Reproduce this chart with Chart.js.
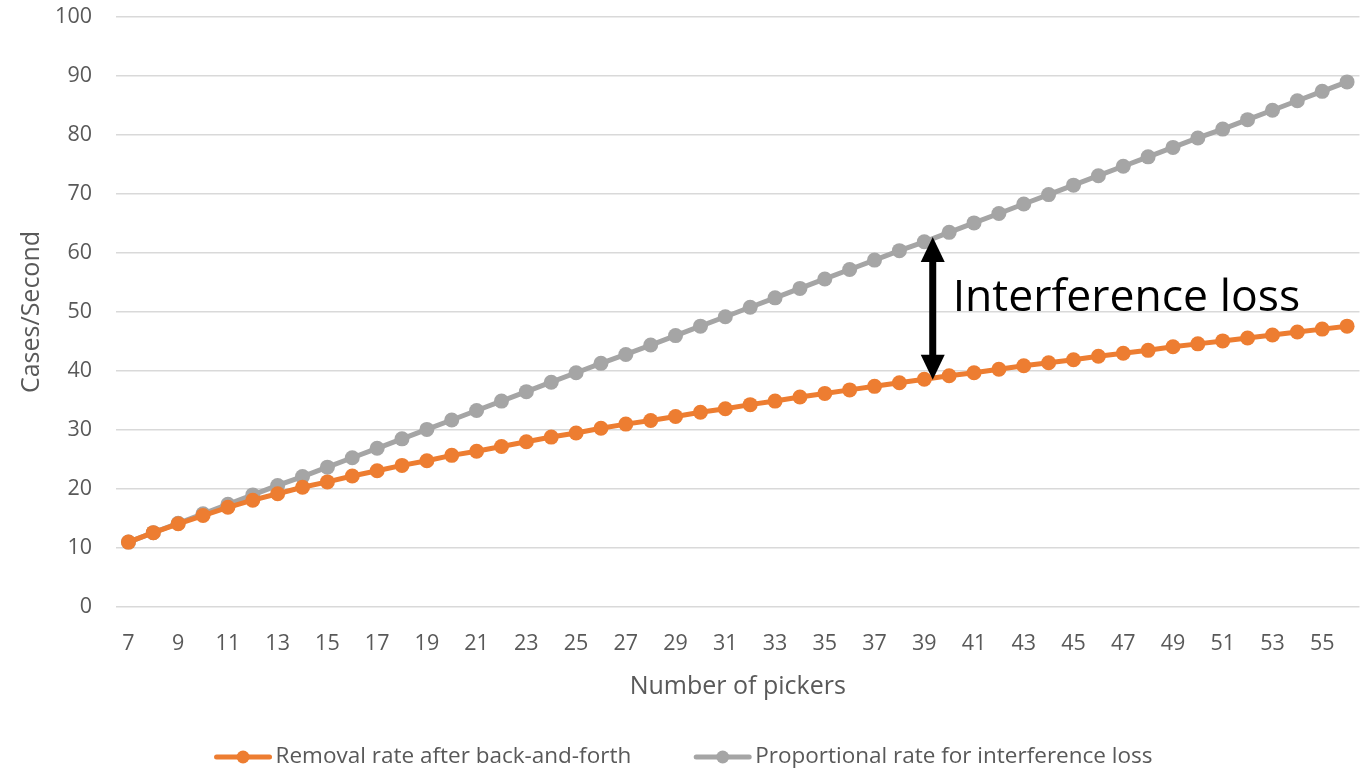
<!DOCTYPE html>
<html>
<head>
<meta charset="utf-8">
<script src="https://cdn.jsdelivr.net/npm/chart.js@4/dist/chart.umd.min.js"></script>
<style>
  html, body { margin: 0; padding: 0; background: #ffffff; }
  #wrap { width: 1367px; height: 773px; }
</style>
</head>
<body>
<div id="wrap"><canvas id="chart" width="1367" height="773"></canvas></div>
<script>
// Number of pickers on the x axis
const pickers = [7, 8, 9, 10, 11, 12, 13, 14, 15, 16, 17, 18, 19, 20, 21, 22, 23, 24, 25, 26,
  27, 28, 29, 30, 31, 32, 33, 34, 35, 36, 37, 38, 39, 40, 41, 42, 43, 44, 45, 46,
  47, 48, 49, 50, 51, 52, 53, 54, 55, 56];

// Removal rate once back-and-forth travel is accounted for (cases/second)
const removalRate = [11.0, 12.6, 14.1, 15.5, 16.9, 18.1, 19.2, 20.3, 21.2, 22.2,
  23.1, 24.0, 24.8, 25.7, 26.4, 27.2, 28.0, 28.8, 29.5, 30.3,
  31.0, 31.6, 32.3, 33.0, 33.6, 34.3, 34.9, 35.6, 36.2, 36.8,
  37.4, 38.0, 38.6, 39.2, 39.7, 40.3, 40.9, 41.4, 41.9, 42.5,
  43.0, 43.5, 44.1, 44.6, 45.1, 45.6, 46.1, 46.6, 47.1, 47.6];

// Rate that would be reached with no interference (cases/second)
const proportionalRate = [11.0, 12.6, 14.2, 15.8, 17.4, 19.0, 20.6, 22.1, 23.7, 25.3,
  26.9, 28.5, 30.1, 31.7, 33.3, 34.9, 36.5, 38.1, 39.7, 41.3,
  42.8, 44.4, 46.0, 47.6, 49.2, 50.8, 52.4, 54.0, 55.6, 57.2,
  58.8, 60.4, 61.9, 63.5, 65.1, 66.7, 68.3, 69.9, 71.5, 73.1,
  74.7, 76.3, 77.9, 79.5, 81.0, 82.6, 84.2, 85.8, 87.4, 89.0];

const seriesNames = ['Removal rate after back-and-forth', 'Proportional rate for interference loss'];
const yTicks = [0, 10, 20, 30, 40, 50, 60, 70, 80, 90, 100];

// Gap annotation: double arrow between the two curves and its caption
const gapArrow = { picker: 39.34, top: 62.7, bottom: 38.5 };
const gapLabel = { text: 'Interference loss', picker: 40.14, value: 52.3 };

const FONT = "'Open Sans', 'Noto Sans', sans-serif";
const TEXT_GREY = '#595959';
const ORANGE = '#ED7D31';
const GREY = '#A5A5A5';

// Draws the double-headed arrow and its caption through the chart scales
const gapAnnotation = {
  id: 'gapAnnotation',
  afterDatasetsDraw(chart) {
    const { ctx, scales: { x, y } } = chart;
    const idx = gapArrow.picker - pickers[0];
    const ax = x.getPixelForValue(idx);
    const yTop = y.getPixelForValue(gapArrow.top);
    const yBot = y.getPixelForValue(gapArrow.bottom);
    const headLen = 25, headHalf = 12, shaft = 7;
    ctx.save();
    ctx.fillStyle = '#000000';
    ctx.fillRect(ax - shaft / 2, yTop + headLen - 1, shaft, (yBot - yTop) - 2 * headLen + 2);
    ctx.beginPath();
    ctx.moveTo(ax, yTop);
    ctx.lineTo(ax + headHalf, yTop + headLen);
    ctx.lineTo(ax - headHalf, yTop + headLen);
    ctx.closePath();
    ctx.fill();
    ctx.beginPath();
    ctx.moveTo(ax, yBot);
    ctx.lineTo(ax + headHalf, yBot - headLen);
    ctx.lineTo(ax - headHalf, yBot - headLen);
    ctx.closePath();
    ctx.fill();

    const lx = x.getPixelForValue(gapLabel.picker - pickers[0]);
    const ly = y.getPixelForValue(gapLabel.value);
    ctx.font = `44.5px ${FONT}`;
    ctx.textAlign = 'left';
    ctx.textBaseline = 'middle';
    ctx.fillText(gapLabel.text, lx, ly);
    ctx.restore();
  }
};

// Bottom legend: line-with-marker swatch followed by the series name
const lineLegend = {
  id: 'lineLegend',
  afterDraw(chart) {
    const { ctx } = chart;
    const swatch = 57, textGap = 4, itemGap = 63, cy = 757;
    ctx.save();
    ctx.font = `22.5px ${FONT}`;
    const items = chart.data.datasets.map(ds => ({
      label: ds.label, color: ds.borderColor,
      w: swatch + textGap + ctx.measureText(ds.label).width
    }));
    const total = items.reduce((s, it) => s + it.w, 0) + itemGap * (items.length - 1);
    let cx = chart.width / 2 - total / 2;
    items.forEach(it => {
      ctx.strokeStyle = it.color;
      ctx.lineWidth = 5;
      ctx.lineCap = 'round';
      ctx.beginPath();
      ctx.moveTo(cx + 2, cy);
      ctx.lineTo(cx + swatch - 2, cy);
      ctx.stroke();
      ctx.fillStyle = it.color;
      ctx.beginPath();
      ctx.arc(cx + swatch / 2, cy, 6.5, 0, Math.PI * 2);
      ctx.fill();
      ctx.fillStyle = TEXT_GREY;
      ctx.textAlign = 'left';
      ctx.textBaseline = 'middle';
      ctx.fillText(it.label, cx + swatch + textGap, cy);
      cx += it.w + itemGap;
    });
    ctx.restore();
  }
};

new Chart(document.getElementById('chart'), {
  type: 'line',
  data: {
    labels: pickers.map(String),
    datasets: [
      {
        label: seriesNames[0],
        data: removalRate,
        borderColor: ORANGE,
        backgroundColor: ORANGE,
        borderWidth: 5,
        pointRadius: 7.5,
        pointHoverRadius: 7.5,
        pointBorderWidth: 0,
        tension: 0
      },
      {
        label: seriesNames[1],
        data: proportionalRate,
        borderColor: GREY,
        backgroundColor: GREY,
        borderWidth: 5,
        pointRadius: 7.5,
        pointHoverRadius: 7.5,
        pointBorderWidth: 0,
        tension: 0
      }
    ]
  },
  options: {
    responsive: false,
    animation: false,
    devicePixelRatio: 1,
    layout: { padding: { top: 17, right: 4.5, bottom: 56, left: 0 } },
    plugins: {
      legend: { display: false },
      tooltip: { enabled: false }
    },
    scales: {
      x: {
        type: 'category',
        offset: true,
        grid: { display: false, drawTicks: false },
        border: { display: false },
        ticks: {
          autoSkip: false,
          maxRotation: 0,
          minRotation: 0,
          padding: 24,
          color: TEXT_GREY,
          font: { family: FONT, size: 21.5 },
          callback: (v, i) => (i % 2 === 0 ? pickers[i] : '')
        },
        title: {
          display: true,
          text: 'Number of pickers',
          color: TEXT_GREY,
          font: { family: FONT, size: 25 },
          padding: { top: 0, bottom: 15 }
        },
        afterFit(scale) {
          scale.height = 110;
          scale.paddingRight = 0;
        }
      },
      y: {
        min: 0,
        max: 100,
        afterBuildTicks(scale) { scale.ticks = yTicks.map(v => ({ value: v })); },
        grid: { color: '#D9D9D9', lineWidth: 1.5, drawTicks: false },
        border: { display: false },
        ticks: {
          padding: 24,
          color: TEXT_GREY,
          font: { family: FONT, size: 21.5 }
        },
        title: {
          display: true,
          text: 'Cases/Second',
          color: TEXT_GREY,
          font: { family: FONT, size: 25 },
          padding: { top: 17, bottom: 0 }
        },
        afterFit(scale) {
          scale.width = 116;
          scale.paddingTop = 12;
          scale.paddingBottom = 12;
        }
      }
    }
  },
  plugins: [gapAnnotation, lineLegend]
});
</script>
</body>
</html>
